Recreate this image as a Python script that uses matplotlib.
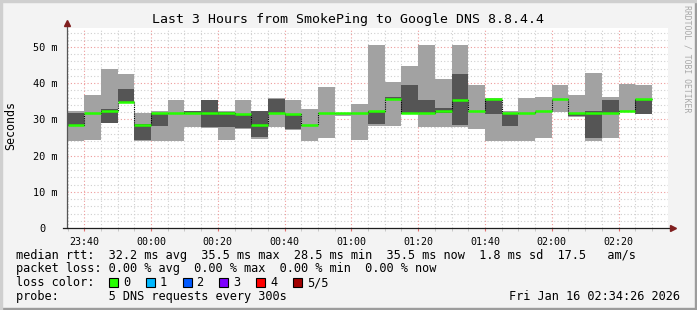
import matplotlib
matplotlib.use("Agg")
import matplotlib.pyplot as plt
import matplotlib.transforms as mtransforms
from matplotlib.patches import Rectangle
import numpy as np

W, H = 697, 310

# start of each 5 minute step, minutes after 23:40
step_start = np.arange(-5, 170, 5)

# the five sorted pings of each step, in ms
ping_lo = [23.9, 24.3, 28.9, 34.9, 24.0, 24.0, 24.0, 28.0, 27.6, 24.3, 27.3, 24.5,
           28.0, 27.2, 23.9, 24.8, 31.0, 24.3, 28.2, 28.2, 31.4, 28.0, 28.0, 28.0,
           27.3, 23.9, 23.9, 23.9, 24.9, 32.0, 30.8, 23.9, 24.9, 32.0, 31.4]
ping_2nd = [28.4, 31.8, 28.9, 34.9, 24.4, 28.3, 31.9, 31.9, 28.0, 28.0, 27.5, 25.2,
            31.9, 27.4, 28.5, 31.7, 31.6, 31.9, 28.7, 35.4, 31.9, 31.8, 31.9, 28.4,
            32.2, 31.5, 28.2, 31.7, 32.3, 35.5, 30.9, 24.8, 31.9, 32.3, 31.5]
median = [28.5, 31.8, 32.3, 34.9, 28.5, 31.9, 31.9, 31.9, 31.9, 31.9, 31.5, 28.5,
          31.9, 31.6, 28.5, 31.7, 31.7, 31.9, 32.2, 35.5, 31.9, 31.9, 32.3, 35.4,
          32.2, 35.5, 31.8, 31.7, 32.3, 35.5, 31.7, 31.9, 31.9, 32.3, 35.5]
ping_4th = [31.9, 31.9, 32.9, 38.4, 28.6, 31.9, 31.9, 32.2, 35.4, 32.0, 31.5, 32.2,
            35.6, 31.6, 28.5, 31.7, 31.8, 31.9, 32.2, 36.2, 39.5, 35.4, 33.2, 42.5,
            32.4, 35.7, 31.8, 31.7, 32.3, 35.5, 31.9, 32.3, 35.4, 32.3, 35.5]
ping_hi = [32.3, 36.7, 44.0, 42.5, 31.7, 32.3, 35.4, 32.3, 35.4, 32.2, 35.4, 32.2,
           35.9, 35.4, 32.9, 39.0, 31.9, 34.2, 50.6, 40.3, 44.8, 50.6, 41.2, 50.6,
           39.5, 35.8, 32.3, 35.8, 36.2, 39.5, 36.7, 42.9, 36.2, 39.8, 39.5]

x_ticks = [0, 20, 40, 60, 80, 100, 120, 140, 160]
x_labels = ["23:40", "00:00", "00:20", "00:40", "01:00", "01:20", "01:40", "02:00", "02:20"]
y_ticks = [0, 10, 20, 30, 40, 50]
y_labels = ["0", "10 m", "20 m", "30 m", "40 m", "50 m"]

loss_colors = ["#26ff00", "#00b8ff", "#0059ff", "#7e00ff", "#ff0000", "#a10000"]
loss_names = ["0", "1", "2", "3", "4", "5/5"]

mono = "DejaVu Sans Mono"
plt.rcParams["font.family"] = mono


def fx(px):
    return px / W


def fy(py):
    return 1 - py / H


fig = plt.figure(figsize=(W / 100, H / 100), dpi=100, facecolor="#f3f3f3")

# 3d frame round the picture
fig.patches.append(Rectangle((0, 0), 1, 2 / H, transform=fig.transFigure, color="#9c9c9c", zorder=0))
fig.patches.append(Rectangle((1 - 2 / W, 0), 2 / W, 1, transform=fig.transFigure, color="#9c9c9c", zorder=0))
fig.patches.append(Rectangle((0, 1 - 2 / H), 1, 2 / H, transform=fig.transFigure, color="#cfcfcf", zorder=0))
fig.patches.append(Rectangle((0, 0), 2 / W, 1, transform=fig.transFigure, color="#cfcfcf", zorder=0))

ax = fig.add_axes([fx(67), fy(228), fx(668) - fx(67), fy(28) - fy(228)])
ax.set_facecolor("white")
ax.set_xlim(-5.18, 174.82)
ax.set_ylim(0, 55.25)

# grid
for v in np.arange(0, 56, 2):
    if v % 10:
        ax.axhline(v, color="#cfcfcf", lw=0.8, ls=(0, (1, 2)), zorder=1)
for v in np.arange(-5, 175, 5):
    if v % 20:
        ax.axvline(v, color="#cfcfcf", lw=0.8, ls=(0, (1, 2)), zorder=1)
for v in y_ticks[1:]:
    ax.axhline(v, color="#ee9a9a", lw=0.8, ls=(0, (1, 2)), zorder=1)
for v in x_ticks:
    ax.axvline(v, color="#ee9a9a", lw=0.8, ls=(0, (1, 2)), zorder=1)

edges = np.append(step_start, step_start[-1] + 5)
ax.stairs(ping_hi, edges, baseline=ping_lo, fill=True, color="#a2a2a2", zorder=2)
ax.stairs(ping_4th, edges, baseline=ping_2nd, fill=True, color="#555555", zorder=3)
ax.stairs(median, edges, baseline=None, color="black", lw=0.8, ls=(0, (1, 1)), zorder=4)
ax.hlines(median, edges[:-1], edges[1:], color=loss_colors[0], lw=1.8, zorder=5)

for s in ax.spines.values():
    s.set_visible(False)
ax.plot([0, 0], [0, 1 + 4 / 200], transform=ax.transAxes, color="#555555", lw=0.9, clip_on=False, zorder=6)
ax.plot([-4 / 601, 1 + 4 / 601], [0, 0], transform=ax.transAxes, color="#1e1e1e", lw=0.9, clip_on=False, zorder=6)
ax.plot([0], [1 + 5 / 200], transform=ax.transAxes, marker="^", ms=4, color="#801f1f", clip_on=False, zorder=7)
ax.plot([1 + 5 / 601], [0], transform=ax.transAxes, marker=">", ms=4, color="#801f1f", clip_on=False, zorder=7)

ax.set_xticks(x_ticks)
ax.set_xticklabels(x_labels, fontsize=7.2)
ax.set_xticks(np.arange(-5, 175, 5), minor=True)
ax.tick_params(axis="x", which="major", length=2.5, color="#e07070", pad=4)
ax.tick_params(axis="x", which="minor", length=2, color="#c0c0c0")
ax.set_yticks(y_ticks)
ax.set_yticklabels(y_labels, fontsize=7.4)
ax.tick_params(axis="y", length=0, pad=7)
zero = ax.get_yticklabels()[0]
zero.set_transform(zero.get_transform() + mtransforms.ScaledTranslation(-0.12, 0, fig.dpi_scale_trans))

fig.text(fx(348), fy(22.7), "Last 3 Hours from SmokePing to Google DNS 8.8.4.4",
         ha="center", va="baseline", fontsize=9.5)
fig.text(fx(11), fy(126), "Seconds", rotation=90, ha="center", va="center", fontsize=8.4)
fig.text(fx(687), fy(5), "RRDTOOL / TOBI OETIKER", rotation=-90, ha="center", va="top",
         fontsize=5.9, color="#a8a8a8")

fs = 8.55
fig.text(fx(16), fy(258.5),
         "median rtt:  32.2 ms avg  35.5 ms max  28.5 ms min  35.5 ms now  1.8 ms sd  17.5   am/s",
         va="baseline", fontsize=fs)
fig.text(fx(16), fy(272.3),
         "packet loss: 0.00 % avg  0.00 % max  0.00 % min  0.00 % now",
         va="baseline", fontsize=fs)
fig.text(fx(16), fy(286), "loss color:", va="baseline", fontsize=fs)
for k, (c, name) in enumerate(zip(loss_colors, loss_names)):
    x0 = 109 + 36.8 * k
    fig.patches.append(Rectangle((fx(x0), fy(287)), 9 / W, 9 / H, transform=fig.transFigure,
                                 facecolor=c, edgecolor="black", lw=0.8))
    fig.text(fx(x0 + 14), fy(286), name, va="baseline", fontsize=fs)
fig.text(fx(16), fy(300), "probe:       5 DNS requests every 300s", va="baseline", fontsize=fs)
fig.text(fx(680), fy(300), "Fri Jan 16 02:34:26 2026", ha="right", va="baseline", fontsize=fs)

fig.savefig("out.png", dpi=100, facecolor=fig.get_facecolor())
